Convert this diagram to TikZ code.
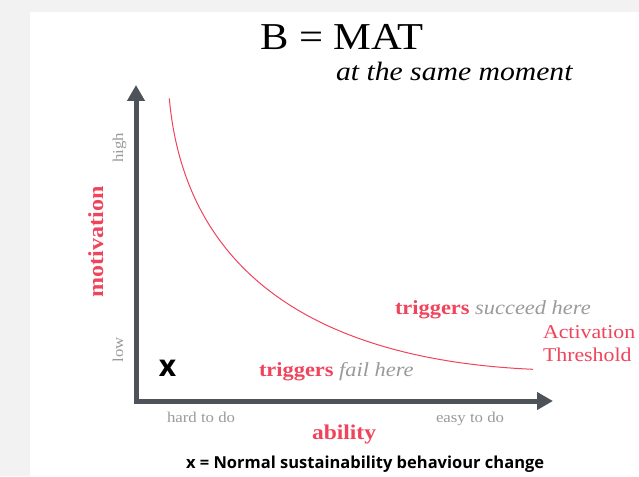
\documentclass[tikz,border=0pt]{standalone}
\usepackage{fontspec}
\setmainfont[FakeStretch=1.12]{Liberation Serif}
\newfontfamily\opensans{Open Sans}
\usepackage{xcolor}
\usetikzlibrary{arrows.meta}

\definecolor{axisgrey}{HTML}{4E535A}
\definecolor{trigred}{HTML}{F0445C}
\definecolor{softgrey}{HTML}{9A9A9A}
\definecolor{pagegrey}{HTML}{F2F2F2}

\begin{document}
\begin{tikzpicture}[x=1pt,y=-1pt]
      \tikzstyle{axis}=[line width=5pt,draw=axisgrey,line join=miter,
        {Triangle[length=16pt,width=17pt]}-{Triangle[length=16pt,width=17pt]}]
      \tikzstyle{plain text}=[inner sep=0pt,outer sep=0pt]
      \tikzstyle{red text}=[plain text,text=trigred]
      \tikzstyle{grey text}=[plain text,text=softgrey,font=\fontsize{15}{18}\selectfont]

      % Page and panel
      \fill[pagegrey] (0,0) rectangle (639,476);
      \fill[white] (30,12) rectangle (639,476);

      % Heading
      \node[plain text,anchor=base,font=\fontsize{38}{40}\selectfont] (title) at (342,50) {B = MAT};
      \node[plain text,anchor=base west,font=\fontsize{26.5}{28}\selectfont\itshape] (moment) at (336,81) {at the same moment};

      % Axes
      \coordinate (Y-top) at (136,85);
      \coordinate (O) at (136,401);
      \coordinate (X-end) at (553,401);
      \draw[axis] (Y-top) -- (O) -- (X-end);

      % Activation threshold curve
      \coordinate (curve-start) at (169.3,98.3);
      \coordinate (curve-end) at (533,369.3);
      \draw[trigred,line width=1pt] (curve-start) .. controls (185,275) and (320,360) .. (curve-end);

      % Axis labels
      \node[red text,anchor=base,rotate=90,font=\fontsize{21.5}{24}\selectfont\bfseries] (motivation) at (103,242) {motivation};
      \node[grey text,anchor=base,rotate=90] (high) at (123,148) {high};
      \node[grey text,anchor=base,rotate=90] (low) at (123,350) {low};
      \node[grey text,anchor=base west] (hard) at (167,422) {hard to do};
      \node[grey text,anchor=base west] (easy) at (436,422) {easy to do};
      \node[red text,anchor=base west,font=\fontsize{21}{24}\selectfont\bfseries] (ability) at (312,439) {ability};

      % Regions
      \node[plain text,anchor=base west,font=\fontsize{20}{24}\selectfont] (succeed) at (395,314)
        {\textcolor{trigred}{\bfseries triggers} \textcolor{softgrey}{\itshape succeed here}};
      \node[plain text,anchor=base west,font=\fontsize{20}{24}\selectfont] (fail) at (259,376)
        {\textcolor{trigred}{\bfseries triggers} \textcolor{softgrey}{\itshape fail here}};
      \node[red text,anchor=base west,align=left,font=\fontsize{19.5}{23}\selectfont] (threshold) at (543,361)
        {Activation\\Threshold};

      % Marker and footnote
      \node[plain text,anchor=center,font=\opensans\fontsize{30}{32}\selectfont\bfseries] (mark) at (167.5,368) {x};
      \node[plain text,anchor=base west,font=\opensans\fontsize{16.5}{18}\selectfont\bfseries] (note) at (186,468)
        {x = Normal sustainability behaviour change};
    \end{tikzpicture}
\end{document}
